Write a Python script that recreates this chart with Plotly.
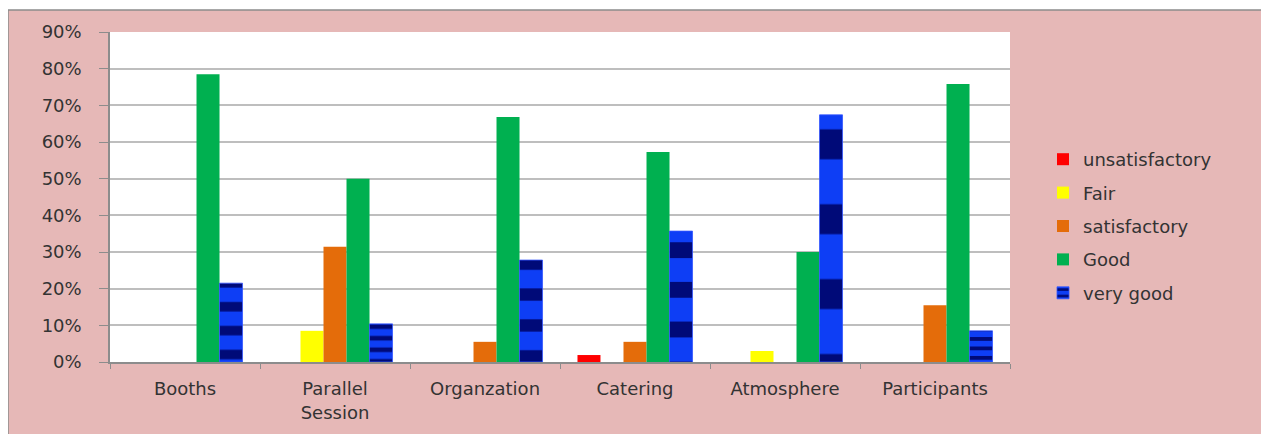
import plotly.graph_objects as go

categories = ["Booths", "Parallel<br>Session", "Organzation", "Catering", "Atmosphere", "Participants"]
series_names = ["unsatisfactory", "Fair", "satisfactory", "Good", "very good"]
unsatisfactory = [0, 0, 0, 0.019, 0, 0]
fair = [0, 0.085, 0, 0, 0.03, 0]
satisfactory = [0, 0.314, 0.055, 0.055, 0, 0.155]
good = [0.785, 0.50, 0.668, 0.573, 0.30, 0.758]
very_good = [0.215, 0.104, 0.278, 0.357, 0.674, 0.085]
y_ticks = [0, 0.1, 0.2, 0.3, 0.4, 0.5, 0.6, 0.7, 0.8, 0.9]

colors = ["#FF0000", "#FFFF00", "#E46C0A", "#00B050", "#0033EE"]
values = [unsatisfactory, fair, satisfactory, good, very_good]

# page body has an 8px margin; work in figure coordinates offset by it
OFF = 8
W, H = 1269 - OFF, 434 - OFF
L, R, T, B = 110 - OFF, 1010 - OFF, 32 - OFF, 362 - OFF
YMAX = 0.9

fig = go.Figure()
for i, (name, vals, col) in enumerate(zip(series_names, values, colors)):
    marker = dict(color=col, line=dict(width=0))
    if name == "very good":
        # stripes repeat about 3.3 times over each bar's height (gradient look)
        sizes = [max(6, v / YMAX * (B - T) / 3.3) for v in vals]
        marker = dict(color="#1040FF", line=dict(width=0.8, color="#3355FF"),
                      pattern=dict(shape="-", fgcolor="#000A78", bgcolor="#0E3EF5",
                                   size=sizes, solidity=0.4, fillmode="replace"))
    fig.add_trace(go.Bar(x=categories, y=vals, name=name, marker=marker,
                         legendgroup=name))

font = "DejaVu Sans"
px = lambda p: (p - OFF - L) / (R - L)
py = lambda p: (B - (p - OFF)) / (B - T)

fig.add_shape(type="rect", xref="paper", yref="paper", layer="below",
              x0=px(8), x1=px(1290), y0=py(440), y1=py(10),
              fillcolor="#E6B8B7", line=dict(color="#8C8C8C", width=1.5))
fig.add_shape(type="rect", xref="paper", yref="paper", layer="below",
              x0=0, x1=1, y0=0, y1=1, fillcolor="white", line=dict(width=0))

fig.update_layout(
    width=W, height=H,
    margin=dict(l=L, r=W - R, t=T, b=H - B, pad=0),
    paper_bgcolor="white", plot_bgcolor="white",
    barmode="group", bargap=0.233, bargroupgap=0,
    font=dict(family=font, size=18, color="#333333"),
    legend=dict(x=px(1043), y=py(226), xanchor="left", yanchor="middle",
                bgcolor="rgba(0,0,0,0)", font=dict(size=18, color="#333333"),
                traceorder="grouped", tracegroupgap=7, itemwidth=30),
    showlegend=True,
)
fig.update_xaxes(showline=True, linecolor="#8C8C8C", linewidth=1.5,
                 ticks="outside", tickson="boundaries", ticklen=5, tickcolor="#8C8C8C",
                 ticklabelstandoff=10, showgrid=False, tickfont=dict(size=18))
fig.update_yaxes(range=[0, YMAX], tickvals=y_ticks, tickformat=".0%",
                 showline=True, linecolor="#8C8C8C", linewidth=1.5,
                 ticks="outside", ticklen=9, tickcolor="#8C8C8C",
                 showgrid=True, gridcolor="#BEBEBE", gridwidth=1.5,
                 ticklabelstandoff=14, zeroline=False, tickfont=dict(size=18))

fig.write_html("out.html")
